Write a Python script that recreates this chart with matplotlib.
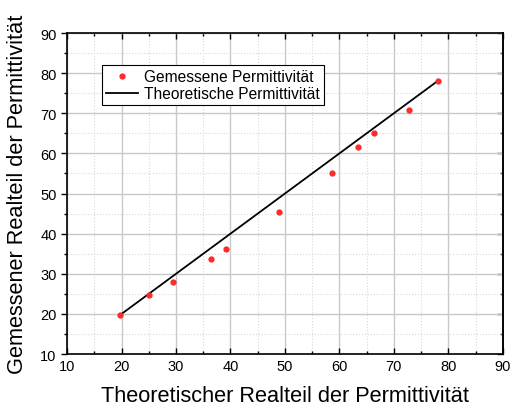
import numpy as np
import matplotlib.pyplot as plt
from matplotlib.ticker import MultipleLocator

plt.rcParams['font.family'] = ['Liberation Sans', 'DejaVu Sans']

# gemessene Werte
x_theo = [19.7, 25.0, 29.4, 36.4, 39.1, 48.9, 58.6, 63.5, 66.4, 72.8, 78.1]
y_mess = [19.7, 24.7, 28.0, 33.8, 36.1, 45.5, 55.2, 61.6, 65.0, 70.7, 78.0]

fig = plt.figure(figsize=(5.12, 4.10), dpi=100)
ax = fig.add_axes([0.131, 0.134, 0.851, 0.783])

ax.plot(x_theo, y_mess, 'o', color='#ff2a2a', ms=3.5, label='Gemessene Permittivität', zorder=3)
ax.plot(x_theo, x_theo, '-', color='black', lw=1.3, label='Theoretische Permittivität', zorder=2)

ax.set_xlim(10, 90)
ax.set_ylim(10, 90)
ax.xaxis.set_major_locator(MultipleLocator(10))
ax.yaxis.set_major_locator(MultipleLocator(10))
ax.xaxis.set_minor_locator(MultipleLocator(5))
ax.yaxis.set_minor_locator(MultipleLocator(5))

ax.grid(which='major', color='#c8c8c8', lw=1.0)
ax.grid(which='minor', color='#d8d8d8', lw=0.8, ls=':')
ax.set_axisbelow(True)

ax.tick_params(which='both', top=True, right=False, labelsize=10.5)
ax.tick_params(axis='x', which='both', direction='in')
ax.tick_params(axis='y', which='both', direction='out')
ax.tick_params(which='major', length=4, width=1)
ax.tick_params(which='minor', length=2.5, width=1)
for s in ax.spines.values():
    s.set_linewidth(1.2)

# rechte Achse mit Ticks nach innen
sec = ax.secondary_yaxis('right')
sec.yaxis.set_major_locator(MultipleLocator(10))
sec.yaxis.set_minor_locator(MultipleLocator(5))
sec.tick_params(which='both', direction='in', labelright=False, width=1)
sec.tick_params(which='major', length=4)
sec.tick_params(which='minor', length=2.5)
sec.spines['right'].set_linewidth(1.2)

ax.set_xlabel('Theoretischer Realteil der Permittivität', fontsize=15.7, labelpad=9)
ax.set_ylabel('Gemessener Realteil der Permittivität', fontsize=15.7, labelpad=9)

leg = ax.legend(loc='upper left', bbox_to_anchor=(0.08, 0.9), fontsize=11.2,
                frameon=True, fancybox=False, edgecolor='black', framealpha=1,
                borderpad=0.25, handlelength=2.1, handletextpad=0.35, labelspacing=0.15,
                borderaxespad=0)
leg.get_frame().set_linewidth(0.8)

fig.savefig('out.png', dpi=100)
